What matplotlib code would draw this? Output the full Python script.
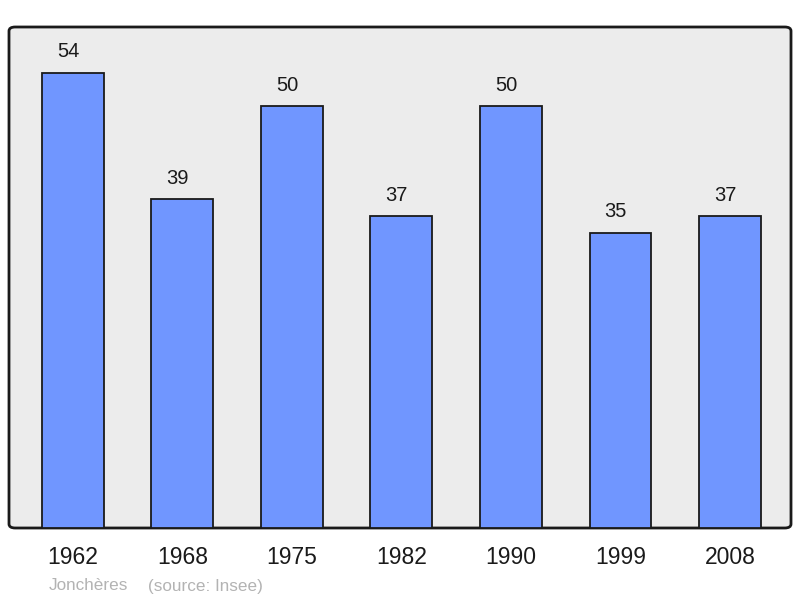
import matplotlib
matplotlib.use("Agg")
import matplotlib.pyplot as plt
from matplotlib.patches import FancyBboxPatch

years = ["1962", "1968", "1975", "1982", "1990", "1999", "2008"]
population = [54, 39, 50, 37, 50, 35, 37]

plt.rcParams['font.family'] = ['Liberation Sans', 'DejaVu Sans']

fig = plt.figure(figsize=(8, 5.98), dpi=100)
ax = fig.add_axes([9/800, 70/598, 782/800, 501/598])
ax.set_facecolor('none')
ax.set_xlim(-0.584, 6.557)
ax.set_ylim(0, 59.4)

# background frame with rounded corners
bg = FancyBboxPatch((0, 0), 1, 1,
                    boxstyle="round,pad=0,rounding_size=0.008",
                    transform=ax.transAxes, facecolor='#ececec',
                    edgecolor='#1a1a1a', linewidth=2, zorder=0,
                    clip_on=False)
ax.add_patch(bg)

x = list(range(len(years)))
ax.bar(x, population, width=0.566, color='#7096ff', edgecolor='#1a1a1a',
       linewidth=1.3, zorder=2)
for xi, v in zip(x, population):
    ax.text(xi - 0.045, v + 1.35, str(v), ha='center', va='bottom',
            fontsize=14.5, color='#1a1a1a')

for s in ax.spines.values():
    s.set_visible(False)
ax.set_yticks([])
ax.set_xticks(x)
ax.set_xticklabels(years, fontsize=16.5, color='#1a1a1a')
ax.tick_params(axis='x', length=0, pad=13)

fig.text(49/800, 1 - 586/598, "Jonchères", fontsize=12.3,
         color='#b3b3b3', ha='left', va='center')
fig.text(148/800, 1 - 586/598, "(source: Insee)", fontsize=12.3,
         color='#b3b3b3', ha='left', va='center')

fig.savefig("out.png", dpi=100)
